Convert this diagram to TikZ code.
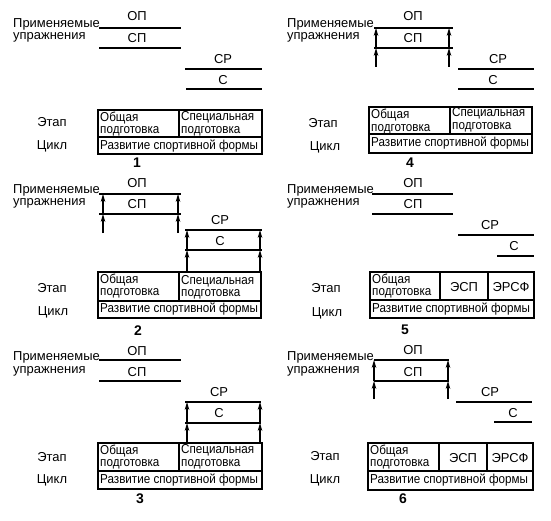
\documentclass[tikz,border=0pt]{standalone}
\usepackage{fontspec}
\setmainfont{Liberation Sans}
\newfontfamily\tabfont[FakeStretch=0.9]{Liberation Sans}
\usetikzlibrary{arrows.meta}
\newcommand\hl[4]{\coordinate (#1-l) at (#2,#4); \coordinate (#1-r) at (#3,#4); \draw[bar] (#1-l) -- (#1-r);}
\newcommand\ua[4]{\coordinate (#1-s) at (#2,#3); \coordinate (#1-e) at (#2,#4); \draw[up] (#1-s) -- (#1-e);}
\begin{document}
\begin{tikzpicture}[x=1bp,y=-1bp,
  bar/.style={line width=1.8bp},
  up/.style={line width=1.1bp,-{Stealth[length=8bp,width=4.6bp]}},
  lbl/.style={font=\fontsize{13}{13}\selectfont, inner sep=0pt},
  tx/.style={font=\tabfont\fontsize{13}{12.5}\selectfont, inner sep=0pt, align=left},
  num/.style={font=\fontsize{14}{14}\selectfont\bfseries, inner sep=0pt},
  box/.style={line width=1.8bp}]
\useasboundingbox (0,0) rectangle (551,521);

% ---------- panel 1 ----------
\begin{scope}[name prefix=p1-]
\node[lbl,anchor=west] (pr) at (13,24) {Применяемые};
\node[lbl,anchor=west] (up) at (13,37) {упражнения};
\node[lbl] (op) at (137,16) {ОП};
\hl{opl}{99}{181}{28}
\node[lbl] (sp) at (137,38) {СП};
\hl{spl}{99}{181}{48}
\node[lbl] (sr) at (223,59) {СР};
\hl{srl}{185}{262}{69}
\node[lbl] (s) at (223,80) {С};
\hl{sl}{186}{262}{89}
\coordinate (t0) at (98,110); \coordinate (tm) at (179,137); \coordinate (t1) at (262,154);
\draw[box] (t0) rectangle (t1);
\draw[box] (t0 |- tm) -- (t1 |- tm);
\draw[box] (tm |- t0) -- (tm);
\node[tx,anchor=north west] (og) at (100,111.5) {Общая\\подготовка};
\node[tx,anchor=north west] (sg) at (181,111.5) {Специальная\\подготовка};
\node[tx,anchor=west] (rs) at (100,146) {Развитие спортивной формы};
\node[lbl] (et) at (52,122) {Этап};
\node[lbl] (ck) at (52,146) {Цикл};
\node[num] (n) at (137,163) {1};
\end{scope}

% ---------- panel 2 ----------
\begin{scope}[name prefix=p2-]
\node[lbl,anchor=west] (pr) at (13,190) {Применяемые};
\node[lbl,anchor=west] (up) at (13,203) {упражнения};
\node[lbl] (op) at (137,183) {ОП};
\hl{opl}{99}{181}{194}
\node[lbl] (sp) at (137,204) {СП};
\hl{spl}{99}{181}{214}
\ua{a1}{103}{214}{194} \ua{a2}{178}{214}{194}
\ua{a3}{103}{233}{214} \ua{a4}{178}{233}{214}
\node[lbl] (sr) at (220,220) {СР};
\hl{srl}{185}{262}{230}
\node[lbl] (s) at (220,241) {С};
\hl{sl}{185}{262}{250}
\ua{b1}{187}{250}{230} \ua{b2}{260}{250}{230}
\ua{b3}{187}{271}{250} \ua{b4}{260}{271}{250}
\coordinate (t0) at (98,272); \coordinate (tm) at (179,301); \coordinate (t1) at (261,318);
\draw[box] (t0) rectangle (t1);
\draw[box] (t0 |- tm) -- (t1 |- tm);
\draw[box] (tm |- t0) -- (tm);
\node[tx,anchor=north west] (og) at (100,273.5) {Общая\\подготовка};
\node[tx,anchor=north west] (sg) at (181,275) {Специальная\\подготовка};
\node[tx,anchor=west] (rs) at (100,309.5) {Развитие спортивной формы};
\node[lbl] (et) at (52,288) {Этап};
\node[lbl] (ck) at (53,312) {Цикл};
\node[num] (n) at (138,331) {2};
\end{scope}

% ---------- panel 3 ----------
\begin{scope}[name prefix=p3-]
\node[lbl,anchor=west] (pr) at (13,357) {Применяемые};
\node[lbl,anchor=west] (up) at (13,371) {упражнения};
\node[lbl] (op) at (137,351) {ОП};
\hl{opl}{99}{181}{360}
\node[lbl] (sp) at (137,372) {СП};
\hl{spl}{99}{181}{381}
\node[lbl] (sr) at (219,392) {СР};
\hl{srl}{185}{261}{402}
\node[lbl] (s) at (219,413) {С};
\hl{sl}{185}{261}{423}
\ua{b1}{187}{423}{402} \ua{b2}{260}{423}{402}
\ua{b3}{187}{443}{423} \ua{b4}{260}{443}{423}
\coordinate (t0) at (98,443); \coordinate (tm) at (179,471); \coordinate (t1) at (262,489);
\draw[box] (t0) rectangle (t1);
\draw[box] (t0 |- tm) -- (t1 |- tm);
\draw[box] (tm |- t0) -- (tm);
\node[tx,anchor=north west] (og) at (100,444.5) {Общая\\подготовка};
\node[tx,anchor=north west] (sg) at (181,444.5) {Специальная\\подготовка};
\node[tx,anchor=west] (rs) at (100,480) {Развитие спортивной формы};
\node[lbl] (et) at (52,457) {Этап};
\node[lbl] (ck) at (52,480) {Цикл};
\node[num] (n) at (140,499) {3};
\end{scope}

% ---------- panel 4 ----------
\begin{scope}[name prefix=p4-]
\node[lbl,anchor=west] (pr) at (287,24) {Применяемые};
\node[lbl,anchor=west] (up) at (287,37) {упражнения};
\node[lbl] (op) at (413,16) {ОП};
\hl{opl}{374}{453}{28}
\node[lbl] (sp) at (413,38) {СП};
\hl{spl}{374}{453}{48}
\ua{a1}{376}{48}{28} \ua{a2}{449}{48}{28}
\ua{a3}{376}{67}{48} \ua{a4}{449}{67}{48}
\node[lbl] (sr) at (498,59) {СР};
\hl{srl}{458}{534}{69}
\node[lbl] (s) at (493,80) {С};
\hl{sl}{458}{534}{89}
\coordinate (t0) at (369,107); \coordinate (tm) at (450,134); \coordinate (t1) at (532,153);
\draw[box] (t0) rectangle (t1);
\draw[box] (t0 |- tm) -- (t1 |- tm);
\draw[box] (tm |- t0) -- (tm);
\node[tx,anchor=north west] (og) at (371,109) {Общая\\подготовка};
\node[tx,anchor=north west] (sg) at (452,107.5) {Специальная\\подготовка};
\node[tx,anchor=west] (rs) at (371,143.5) {Развитие спортивной формы};
\node[lbl] (et) at (323,123) {Этап};
\node[lbl] (ck) at (325,147) {Цикл};
\node[num] (n) at (410,163) {4};
\end{scope}

% ---------- panel 5 ----------
\begin{scope}[name prefix=p5-]
\node[lbl,anchor=west] (pr) at (287,190) {Применяемые};
\node[lbl,anchor=west] (up) at (287,203) {упражнения};
\node[lbl] (op) at (413,183) {ОП};
\hl{opl}{372}{453}{194}
\node[lbl] (sp) at (413,204) {СП};
\hl{spl}{372}{453}{214}
\node[lbl] (sr) at (490,225) {СР};
\hl{srl}{458}{534}{235}
\node[lbl] (s) at (514,246) {С};
\hl{sl}{497}{534}{256}
\coordinate (t0) at (370,272); \coordinate (tm) at (440,300); \coordinate (tn) at (488,300); \coordinate (t1) at (534,318);
\draw[box] (t0) rectangle (t1);
\draw[box] (t0 |- tm) -- (t1 |- tm);
\draw[box] (tm |- t0) -- (tm);
\draw[box] (tn |- t0) -- (tn);
\node[tx,anchor=north west] (og) at (372,273.5) {Общая\\подготовка};
\node[lbl] (esp) at (464,287) {ЭСП};
\node[lbl] (ersf) at (511,287) {ЭРСФ};
\node[tx,anchor=west] (rs) at (372,309) {Развитие спортивной формы};
\node[lbl] (et) at (326,288) {Этап};
\node[lbl] (ck) at (327,313) {Цикл};
\node[num] (n) at (405,330) {5};
\end{scope}

% ---------- panel 6 ----------
\begin{scope}[name prefix=p6-]
\node[lbl,anchor=west] (pr) at (287,357) {Применяемые};
\node[lbl,anchor=west] (up) at (287,371) {упражнения};
\node[lbl] (op) at (413,350) {ОП};
\hl{opl}{374}{449}{360}
\node[lbl] (sp) at (413,372) {СП};
\hl{spl}{374}{449}{381}
\ua{a1}{374}{381}{360} \ua{a2}{448}{381}{360}
\ua{a3}{374}{399}{381} \ua{a4}{448}{399}{381}
\node[lbl] (sr) at (490,392) {СР};
\hl{srl}{456}{532}{402}
\node[lbl] (s) at (513,413) {С};
\hl{sl}{494}{532}{422}
\coordinate (t0) at (368,443); \coordinate (tm) at (439,471); \coordinate (tn) at (487,471); \coordinate (t1) at (533,490);
\draw[box] (t0) rectangle (t1);
\draw[box] (t0 |- tm) -- (t1 |- tm);
\draw[box] (tm |- t0) -- (tm);
\draw[box] (tn |- t0) -- (tn);
\node[tx,anchor=north west] (og) at (370,444.5) {Общая\\подготовка};
\node[lbl] (esp) at (463,458) {ЭСП};
\node[lbl] (ersf) at (510,458) {ЭРСФ};
\node[tx,anchor=west] (rs) at (370,480.5) {Развитие спортивной формы};
\node[lbl] (et) at (325,456) {Этап};
\node[lbl] (ck) at (325,480) {Цикл};
\node[num] (n) at (403,499) {6};
\end{scope}
\end{tikzpicture}
\end{document}
